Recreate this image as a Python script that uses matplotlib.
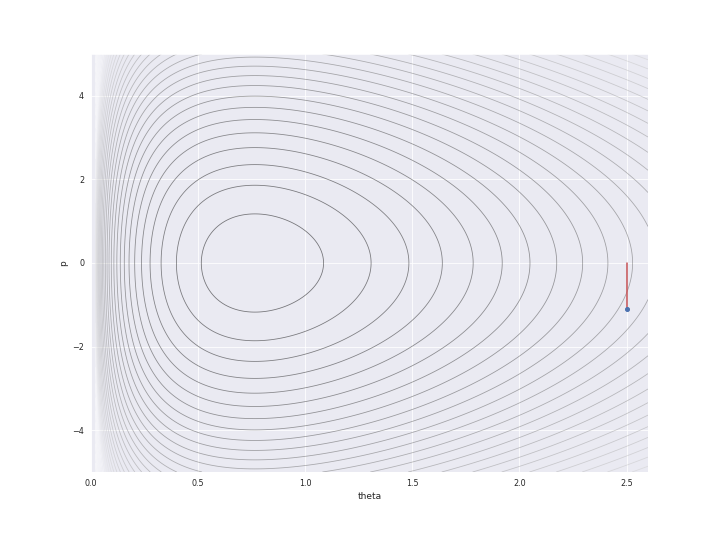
import numpy as np
import matplotlib
matplotlib.use("Agg")
import matplotlib.pyplot as plt
import seaborn as sns

sns.set_style("darkgrid")
plt.rcParams['font.family'] = ['DejaVu Sans']

# Potential: gamma-like negative log density U(theta) = -c*log(theta) + b*theta
shape_c = 10.0
rate_b = 13.07
# HMC momentum sample drawn at theta
sample_theta = [2.5, 2.5]
sample_p = [0.0, -1.1]
theta_range = [0.02, 2.6]
p_range = [-5.0, 5.0]
xticks = [0.0, 0.5, 1.0, 1.5, 2.0, 2.5]
yticks = [-4, -2, 0, 2, 4]
level_offset = 0.69
level_step = 1.04
fade_top = 42.0

th = np.linspace(theta_range[0], theta_range[1], 600)
pp = np.linspace(p_range[0], p_range[1], 600)
TH, PP = np.meshgrid(th, pp)
U = -shape_c * np.log(TH) + rate_b * TH
H = U + PP ** 2 / 2.0
Umin = -shape_c * np.log(shape_c / rate_b) + shape_c
levels = Umin + level_offset + level_step * np.arange(0, 60)
levels = levels[levels < H.max()]
norm = np.clip((levels - levels.min()) / (fade_top - levels.min()), 0, 1)
cmap = plt.get_cmap('gray')
line_colors = [(*cmap(v)[:3], 0.5) for v in norm]

fig = plt.figure(figsize=(10, 7.5), dpi=72)
ax = fig.add_axes([91 / 720, 68 / 540, (648 - 91) / 720, (472 - 54) / 540])
ax.contour(TH, PP, H, levels=levels, colors=line_colors, linewidths=0.8)
ax.plot(sample_theta, sample_p, color='#C44E52', lw=1.5)
ax.plot(sample_theta[1:], sample_p[1:], 'o', color='#4C72B0', ms=4)
ax.set_xlim(0, 2.6)
ax.set_ylim(-5, 5)
ax.set_xticks(xticks)
ax.set_yticks(yticks)
ax.tick_params(labelsize=8)
ax.set_xlabel('theta', fontsize=9)
ax.set_ylabel('p', fontsize=9)
fig.savefig('out.png', dpi=72)
